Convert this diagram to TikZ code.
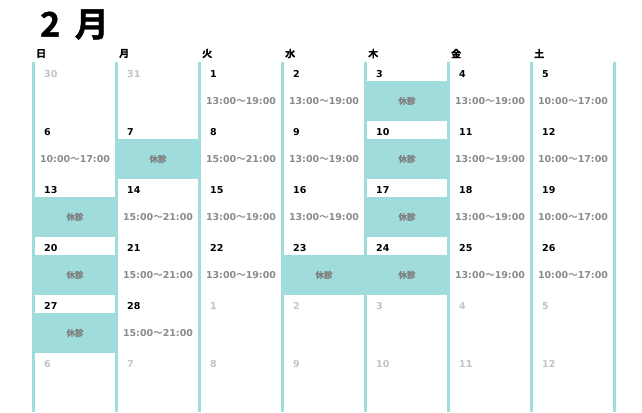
\documentclass[tikz,border=0pt]{standalone}
\usepackage{fontspec}
\usepackage{tikz}
\setmainfont{DejaVu Sans}
\newfontfamily\jpfont{Noto Sans CJK JP}[BoldFont={Noto Sans CJK JP Bold}]
\newfontfamily\jpheavy{Noto Sans CJK JP Bold}[FakeBold=1.2]
\newcommand{\kara}{{\jpfont 〜}}
\definecolor{shade}{HTML}{A0DCDB}
\definecolor{hourgrey}{HTML}{8A8A8A}
\definecolor{offgrey}{HTML}{808080}
\definecolor{othergrey}{HTML}{C3C3C3}

\begin{document}
\begin{tikzpicture}[x=1pt,y=1pt,yscale=-1,xscale=1,
  colbar/.style={fill=shade,draw=none},
  offday/.style={fill=shade,draw=none},
  monthtitle/.style={anchor=west,inner sep=0pt,font=\jpheavy\fontsize{34}{36}\selectfont},
  wkday/.style={anchor=west,inner sep=0pt,font=\jpheavy\fontsize{10}{11}\selectfont},
  daynum/.style={anchor=west,inner sep=0pt,font=\bfseries\fontsize{9.5}{11}\selectfont},
  othernum/.style={daynum,text=othergrey},
  hours/.style={inner sep=0pt,text=hourgrey,font=\bfseries\fontsize{9.5}{11}\selectfont},
  closedtxt/.style={inner sep=0pt,text=offgrey,font=\jpheavy\fontsize{8.5}{9}\selectfont}]
\useasboundingbox (0,0) rectangle (642,412);

%Shape: Rectangle [closed days]
\fill [offday] (364,81) rectangle (450,121);
\fill [offday] (115,139) rectangle (201,179);
\fill [offday] (364,139) rectangle (450,179);
\fill [offday] (32,197) rectangle (118,237);
\fill [offday] (364,197) rectangle (450,237);
\fill [offday] (32,255) rectangle (118,295);
\fill [offday] (281,255) rectangle (367,295);
\fill [offday] (364,255) rectangle (450,295);
\fill [offday] (32,313) rectangle (118,353);

%Shape: Rectangle [column bars]
\fill [colbar] (32,62) rectangle (35,412);
\fill [colbar] (115,62) rectangle (118,412);
\fill [colbar] (198,62) rectangle (201,412);
\fill [colbar] (281,62) rectangle (284,412);
\fill [colbar] (364,62) rectangle (367,412);
\fill [colbar] (447,62) rectangle (450,412);
\fill [colbar] (530,62) rectangle (533,412);
\fill [colbar] (613,62) rectangle (616,412);

% Text Node
\draw (40,24.5) node [monthtitle] (title) {2\hspace{0.2em} 月};
% Text Node
\draw (36,53.5) node [wkday] (sun) {日};
\draw (119,53.5) node [wkday] (mon) {月};
\draw (202,53.5) node [wkday] (tue) {火};
\draw (285,53.5) node [wkday] (wed) {水};
\draw (368,53.5) node [wkday] (thu) {木};
\draw (451,53.5) node [wkday] (fri) {金};
\draw (534,53.5) node [wkday] (sat) {土};

% Text Node [week 1]
\draw (44,74) node [othernum] (p30) {30};
\draw (127,74) node [othernum] (p31) {31};
\draw (210,74) node [daynum] (d1) {1};
\draw (241,101) node [hours] (t1) {13:00\kara19:00};
\draw (293,74) node [daynum] (d2) {2};
\draw (324,101) node [hours] (t2) {13:00\kara19:00};
\draw (376,74) node [daynum] (d3) {3};
\draw (407,101) node [closedtxt] (c3) {休診};
\draw (459,74) node [daynum] (d4) {4};
\draw (490,101) node [hours] (t4) {13:00\kara19:00};
\draw (542,74) node [daynum] (d5) {5};
\draw (573,101) node [hours] (t5) {10:00\kara17:00};

% Text Node [week 2]
\draw (44,132) node [daynum] (d6) {6};
\draw (75,159) node [hours] (t6) {10:00\kara17:00};
\draw (127,132) node [daynum] (d7) {7};
\draw (158,159) node [closedtxt] (c7) {休診};
\draw (210,132) node [daynum] (d8) {8};
\draw (241,159) node [hours] (t8) {15:00\kara21:00};
\draw (293,132) node [daynum] (d9) {9};
\draw (324,159) node [hours] (t9) {13:00\kara19:00};
\draw (376,132) node [daynum] (d10) {10};
\draw (407,159) node [closedtxt] (c10) {休診};
\draw (459,132) node [daynum] (d11) {11};
\draw (490,159) node [hours] (t11) {13:00\kara19:00};
\draw (542,132) node [daynum] (d12) {12};
\draw (573,159) node [hours] (t12) {10:00\kara17:00};

% Text Node [week 3]
\draw (44,190) node [daynum] (d13) {13};
\draw (75,217) node [closedtxt] (c13) {休診};
\draw (127,190) node [daynum] (d14) {14};
\draw (158,217) node [hours] (t14) {15:00\kara21:00};
\draw (210,190) node [daynum] (d15) {15};
\draw (241,217) node [hours] (t15) {13:00\kara19:00};
\draw (293,190) node [daynum] (d16) {16};
\draw (324,217) node [hours] (t16) {13:00\kara19:00};
\draw (376,190) node [daynum] (d17) {17};
\draw (407,217) node [closedtxt] (c17) {休診};
\draw (459,190) node [daynum] (d18) {18};
\draw (490,217) node [hours] (t18) {13:00\kara19:00};
\draw (542,190) node [daynum] (d19) {19};
\draw (573,217) node [hours] (t19) {10:00\kara17:00};

% Text Node [week 4]
\draw (44,248) node [daynum] (d20) {20};
\draw (75,275) node [closedtxt] (c20) {休診};
\draw (127,248) node [daynum] (d21) {21};
\draw (158,275) node [hours] (t21) {15:00\kara21:00};
\draw (210,248) node [daynum] (d22) {22};
\draw (241,275) node [hours] (t22) {13:00\kara19:00};
\draw (293,248) node [daynum] (d23) {23};
\draw (324,275) node [closedtxt] (c23) {休診};
\draw (376,248) node [daynum] (d24) {24};
\draw (407,275) node [closedtxt] (c24) {休診};
\draw (459,248) node [daynum] (d25) {25};
\draw (490,275) node [hours] (t25) {13:00\kara19:00};
\draw (542,248) node [daynum] (d26) {26};
\draw (573,275) node [hours] (t26) {10:00\kara17:00};

% Text Node [week 5]
\draw (44,306) node [daynum] (d27) {27};
\draw (75,333) node [closedtxt] (c27) {休診};
\draw (127,306) node [daynum] (d28) {28};
\draw (158,333) node [hours] (t28) {15:00\kara21:00};
\draw (210,306) node [othernum] (n1) {1};
\draw (293,306) node [othernum] (n2) {2};
\draw (376,306) node [othernum] (n3) {3};
\draw (459,306) node [othernum] (n4) {4};
\draw (542,306) node [othernum] (n5) {5};

% Text Node [week 6]
\draw (44,364) node [othernum] (n6) {6};
\draw (127,364) node [othernum] (n7) {7};
\draw (210,364) node [othernum] (n8) {8};
\draw (293,364) node [othernum] (n9) {9};
\draw (376,364) node [othernum] (n10) {10};
\draw (459,364) node [othernum] (n11) {11};
\draw (542,364) node [othernum] (n12) {12};
\end{tikzpicture}
\end{document}
